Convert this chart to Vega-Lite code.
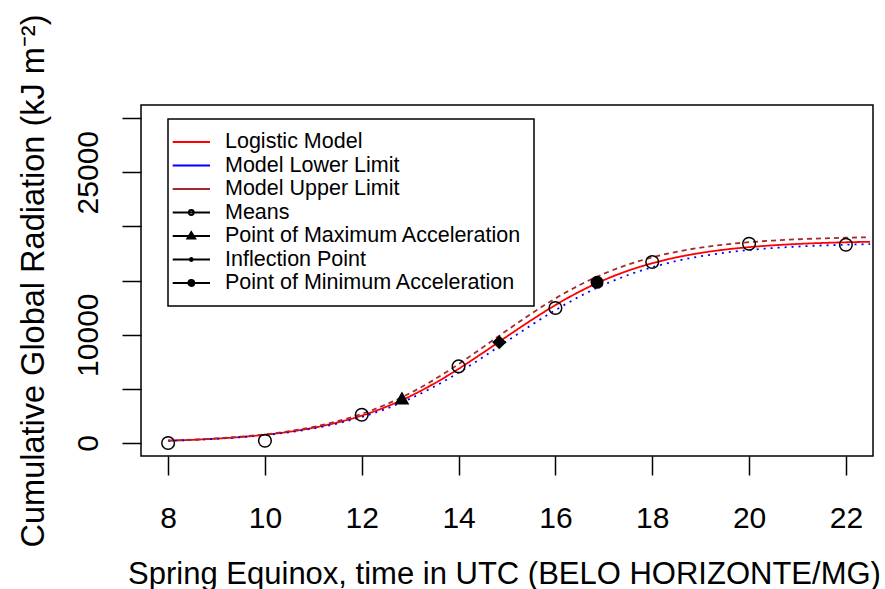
{
  "$schema": "https://vega.github.io/schema/vega-lite/v6.json",
  "width": 732,
  "height": 351,
  "autosize": "none",
  "padding": {"left": 141, "top": 105, "right": 12, "bottom": 133},
  "background": "white",
  "config": {
    "view": {"stroke": "black", "strokeWidth": 1.5},
    "font": "Liberation Sans"
  },
  "datasets": {
    "curves": [
      {"hour": 8, "radiation": 212, "series": "Logistic Model"},
      {"hour": 8.5, "radiation": 292, "series": "Logistic Model"},
      {"hour": 9, "radiation": 402, "series": "Logistic Model"},
      {"hour": 9.5, "radiation": 553, "series": "Logistic Model"},
      {"hour": 10, "radiation": 759, "series": "Logistic Model"},
      {"hour": 10.5, "radiation": 1035, "series": "Logistic Model"},
      {"hour": 11, "radiation": 1406, "series": "Logistic Model"},
      {"hour": 11.5, "radiation": 1894, "series": "Logistic Model"},
      {"hour": 12, "radiation": 2527, "series": "Logistic Model"},
      {"hour": 12.5, "radiation": 3331, "series": "Logistic Model"},
      {"hour": 13, "radiation": 4319, "series": "Logistic Model"},
      {"hour": 13.5, "radiation": 5498, "series": "Logistic Model"},
      {"hour": 14, "radiation": 6845, "series": "Logistic Model"},
      {"hour": 14.5, "radiation": 8315, "series": "Logistic Model"},
      {"hour": 15, "radiation": 9842, "series": "Logistic Model"},
      {"hour": 15.5, "radiation": 11333, "series": "Logistic Model"},
      {"hour": 16, "radiation": 12733, "series": "Logistic Model"},
      {"hour": 16.5, "radiation": 13977, "series": "Logistic Model"},
      {"hour": 17, "radiation": 15036, "series": "Logistic Model"},
      {"hour": 17.5, "radiation": 15905, "series": "Logistic Model"},
      {"hour": 18, "radiation": 16596, "series": "Logistic Model"},
      {"hour": 18.5, "radiation": 17134, "series": "Logistic Model"},
      {"hour": 19, "radiation": 17544, "series": "Logistic Model"},
      {"hour": 19.5, "radiation": 17852, "series": "Logistic Model"},
      {"hour": 20, "radiation": 18080, "series": "Logistic Model"},
      {"hour": 20.5, "radiation": 18249, "series": "Logistic Model"},
      {"hour": 21, "radiation": 18373, "series": "Logistic Model"},
      {"hour": 21.5, "radiation": 18463, "series": "Logistic Model"},
      {"hour": 22, "radiation": 18528, "series": "Logistic Model"},
      {"hour": 22.5, "radiation": 18576, "series": "Logistic Model"},
      {"hour": 8, "radiation": 206, "series": "Model Lower Limit"},
      {"hour": 8.5, "radiation": 285, "series": "Model Lower Limit"},
      {"hour": 9, "radiation": 389, "series": "Model Lower Limit"},
      {"hour": 9.5, "radiation": 534, "series": "Model Lower Limit"},
      {"hour": 10, "radiation": 729, "series": "Model Lower Limit"},
      {"hour": 10.5, "radiation": 991, "series": "Model Lower Limit"},
      {"hour": 11, "radiation": 1342, "series": "Model Lower Limit"},
      {"hour": 11.5, "radiation": 1803, "series": "Model Lower Limit"},
      {"hour": 12, "radiation": 2400, "series": "Model Lower Limit"},
      {"hour": 12.5, "radiation": 3157, "series": "Model Lower Limit"},
      {"hour": 13, "radiation": 4095, "series": "Model Lower Limit"},
      {"hour": 13.5, "radiation": 5214, "series": "Model Lower Limit"},
      {"hour": 14, "radiation": 6500, "series": "Model Lower Limit"},
      {"hour": 14.5, "radiation": 7916, "series": "Model Lower Limit"},
      {"hour": 15, "radiation": 9397, "series": "Model Lower Limit"},
      {"hour": 15.5, "radiation": 10874, "series": "Model Lower Limit"},
      {"hour": 16, "radiation": 12267, "series": "Model Lower Limit"},
      {"hour": 16.5, "radiation": 13524, "series": "Model Lower Limit"},
      {"hour": 17, "radiation": 14608, "series": "Model Lower Limit"},
      {"hour": 17.5, "radiation": 15506, "series": "Model Lower Limit"},
      {"hour": 18, "radiation": 16230, "series": "Model Lower Limit"},
      {"hour": 18.5, "radiation": 16797, "series": "Model Lower Limit"},
      {"hour": 19, "radiation": 17236, "series": "Model Lower Limit"},
      {"hour": 19.5, "radiation": 17566, "series": "Model Lower Limit"},
      {"hour": 20, "radiation": 17814, "series": "Model Lower Limit"},
      {"hour": 20.5, "radiation": 17999, "series": "Model Lower Limit"},
      {"hour": 21, "radiation": 18133, "series": "Model Lower Limit"},
      {"hour": 21.5, "radiation": 18233, "series": "Model Lower Limit"},
      {"hour": 22, "radiation": 18305, "series": "Model Lower Limit"},
      {"hour": 22.5, "radiation": 18359, "series": "Model Lower Limit"},
      {"hour": 8, "radiation": 219, "series": "Model Upper Limit"},
      {"hour": 8.5, "radiation": 303, "series": "Model Upper Limit"},
      {"hour": 9, "radiation": 419, "series": "Model Upper Limit"},
      {"hour": 9.5, "radiation": 581, "series": "Model Upper Limit"},
      {"hour": 10, "radiation": 798, "series": "Model Upper Limit"},
      {"hour": 10.5, "radiation": 1094, "series": "Model Upper Limit"},
      {"hour": 11, "radiation": 1490, "series": "Model Upper Limit"},
      {"hour": 11.5, "radiation": 2013, "series": "Model Upper Limit"},
      {"hour": 12, "radiation": 2691, "series": "Model Upper Limit"},
      {"hour": 12.5, "radiation": 3550, "series": "Model Upper Limit"},
      {"hour": 13, "radiation": 4607, "series": "Model Upper Limit"},
      {"hour": 13.5, "radiation": 5861, "series": "Model Upper Limit"},
      {"hour": 14, "radiation": 7287, "series": "Model Upper Limit"},
      {"hour": 14.5, "radiation": 8826, "series": "Model Upper Limit"},
      {"hour": 15, "radiation": 10403, "series": "Model Upper Limit"},
      {"hour": 15.5, "radiation": 11934, "series": "Model Upper Limit"},
      {"hour": 16, "radiation": 13345, "series": "Model Upper Limit"},
      {"hour": 16.5, "radiation": 14583, "series": "Model Upper Limit"},
      {"hour": 17, "radiation": 15624, "series": "Model Upper Limit"},
      {"hour": 17.5, "radiation": 16468, "series": "Model Upper Limit"},
      {"hour": 18, "radiation": 17134, "series": "Model Upper Limit"},
      {"hour": 18.5, "radiation": 17647, "series": "Model Upper Limit"},
      {"hour": 19, "radiation": 18034, "series": "Model Upper Limit"},
      {"hour": 19.5, "radiation": 18322, "series": "Model Upper Limit"},
      {"hour": 20, "radiation": 18534, "series": "Model Upper Limit"},
      {"hour": 20.5, "radiation": 18690, "series": "Model Upper Limit"},
      {"hour": 21, "radiation": 18804, "series": "Model Upper Limit"},
      {"hour": 21.5, "radiation": 18886, "series": "Model Upper Limit"},
      {"hour": 22, "radiation": 18947, "series": "Model Upper Limit"},
      {"hour": 22.5, "radiation": 18989, "series": "Model Upper Limit"}
    ],
    "means": [
      {"hour": 8, "radiation": 0},
      {"hour": 10, "radiation": 212},
      {"hour": 12, "radiation": 2612},
      {"hour": 14, "radiation": 7070},
      {"hour": 16, "radiation": 12460},
      {"hour": 18, "radiation": 16707},
      {"hour": 20, "radiation": 18396},
      {"hour": 22, "radiation": 18303}
    ],
    "special": [
      {"hour": 12.83, "radiation": 4150, "point": "Point of Maximum Acceleration"},
      {"hour": 14.84, "radiation": 9300, "point": "Inflection Point"},
      {"hour": 16.86, "radiation": 14830, "point": "Point of Minimum Acceleration"}
    ]
  },
  "encoding": {
    "x": {
      "field": "hour",
      "type": "quantitative",
      "scale": {"domain": [7.44, 22.56], "nice": false, "zero": false},
      "axis": {
        "values": [8, 10, 12, 14, 16, 18, 20, 22],
        "grid": false,
        "domain": false,
        "tickSize": 19,
        "tickWidth": 1.5,
        "tickColor": "black",
        "labelFontSize": 30,
        "labelFont": "Liberation Sans",
        "labelColor": "black",
        "labelBaseline": "alphabetic",
        "labelPadding": 52,
        "labelFlush": false,
        "labelOverlap": false,
        "title": "Spring Equinox, time in UTC (BELO HORIZONTE/MG)",
        "titleFont": "Liberation Sans",
        "titleFontSize": 31,
        "titleFontWeight": "normal",
        "titleColor": "black",
        "titleX": 363,
        "titleY": 127,
        "titleAlign": "center",
        "titleBaseline": "alphabetic"
      }
    },
    "y": {
      "field": "radiation",
      "type": "quantitative",
      "scale": {"domain": [-1200, 31200], "nice": false, "zero": false},
      "axis": {
        "values": [0, 5000, 10000, 15000, 20000, 25000, 30000],
        "format": "d",
        "labelExpr": "datum.value == 0 || datum.value == 10000 || datum.value == 25000 ? datum.label : ''",
        "grid": false,
        "domain": false,
        "tickSize": 19,
        "tickWidth": 1.5,
        "tickColor": "black",
        "labelAngle": -90,
        "labelAlign": "center",
        "labelBaseline": "alphabetic",
        "labelPadding": 25,
        "labelFontSize": 30,
        "labelFont": "Liberation Sans",
        "labelColor": "black",
        "labelFlush": false,
        "labelOverlap": false,
        "title": "Cumulative Global Radiation  (kJ m⁻²)",
        "titleFont": "Liberation Sans",
        "titleFontSize": 32.5,
        "titleFontWeight": "normal",
        "titleColor": "black",
        "titleAngle": -90,
        "titleX": -98,
        "titleY": 175.5,
        "titleAlign": "center",
        "titleBaseline": "alphabetic"
      }
    }
  },
  "layer": [
    {
      "data": {"name": "curves"},
      "mark": {"type": "line", "interpolate": "monotone", "strokeWidth": 1.8, "clip": true},
      "encoding": {
        "color": {
          "field": "series",
          "type": "nominal",
          "scale": {
            "domain": ["Logistic Model", "Model Lower Limit", "Model Upper Limit", "Means", "Point of Maximum Acceleration", "Inflection Point", "Point of Minimum Acceleration"],
            "range": ["#FF0000", "#0000FF", "#A52A2A", "black", "black", "black", "black"]
          },
          "legend": {
            "orient": "none",
            "legendX": 27,
            "legendY": 14,
            "title": null,
            "strokeColor": "black",
            "fillColor": "white",
            "padding": 12,
            "labelFont": "Liberation Sans",
            "labelFontSize": 21.5,
            "labelColor": "black",
            "labelOffset": 23,
            "labelLimit": 600,
            "rowPadding": 1.5,
            "symbolSize": 400,
            "symbolStrokeWidth": 1.8,
            "encode": {
              "legend": {"update": {"strokeWidth": {"value": 1.5}}},
              "symbols": {
                "update": {
                  "shape": {"signal": "datum.value === 'Means' ? 'M-1.83,0L1.9,0M0.28,0A0.25,0.25,0,1,1,-0.22,0A0.25,0.25,0,1,1,0.28,0' : datum.value === 'Point of Maximum Acceleration' ? 'M-1.83,0L1.9,0M-0.37,0.25L0.03,-0.4L0.43,0.25Z' : datum.value === 'Inflection Point' ? 'M-1.83,0L1.9,0M0.18,0A0.15,0.15,0,1,1,-0.12,0A0.15,0.15,0,1,1,0.18,0' : datum.value === 'Point of Minimum Acceleration' ? 'M-1.83,0L1.9,0M0.33,0A0.3,0.3,0,1,1,-0.27,0A0.3,0.3,0,1,1,0.33,0' : 'M-1.83,0L1.9,0'"},
                  "fill": {"signal": "datum.value === 'Means' ? 'transparent' : 'black'"},
                  "stroke": {"signal": "datum.value === 'Logistic Model' ? '#FF0000' : datum.value === 'Model Lower Limit' ? '#0000FF' : datum.value === 'Model Upper Limit' ? '#A52A2A' : 'black'"},
                  "opacity": {"value": 1},
                  "fillOpacity": {"value": 1},
                  "strokeOpacity": {"value": 1}
                }
              }
            }
          }
        },
        "strokeDash": {
          "field": "series",
          "type": "nominal",
          "scale": {
            "domain": ["Logistic Model", "Model Lower Limit", "Model Upper Limit"],
            "range": [[1, 0], [2, 5], [5, 4]]
          },
          "legend": null
        }
      }
    },
    {
      "data": {"name": "means"},
      "mark": {"type": "point", "shape": "circle", "filled": false, "stroke": "black", "strokeWidth": 1.5, "size": 160, "opacity": 1}
    },
    {
      "data": {"name": "special"},
      "transform": [{"filter": "datum.point === 'Point of Maximum Acceleration'"}],
      "mark": {"type": "point", "shape": "triangle-up", "filled": true, "fill": "black", "size": 220, "opacity": 1}
    },
    {
      "data": {"name": "special"},
      "transform": [{"filter": "datum.point === 'Inflection Point'"}],
      "mark": {"type": "point", "shape": "diamond", "filled": true, "fill": "black", "size": 200, "opacity": 1}
    },
    {
      "data": {"name": "special"},
      "transform": [{"filter": "datum.point === 'Point of Minimum Acceleration'"}],
      "mark": {"type": "point", "shape": "circle", "filled": true, "fill": "black", "size": 170, "opacity": 1}
    }
  ]
}
